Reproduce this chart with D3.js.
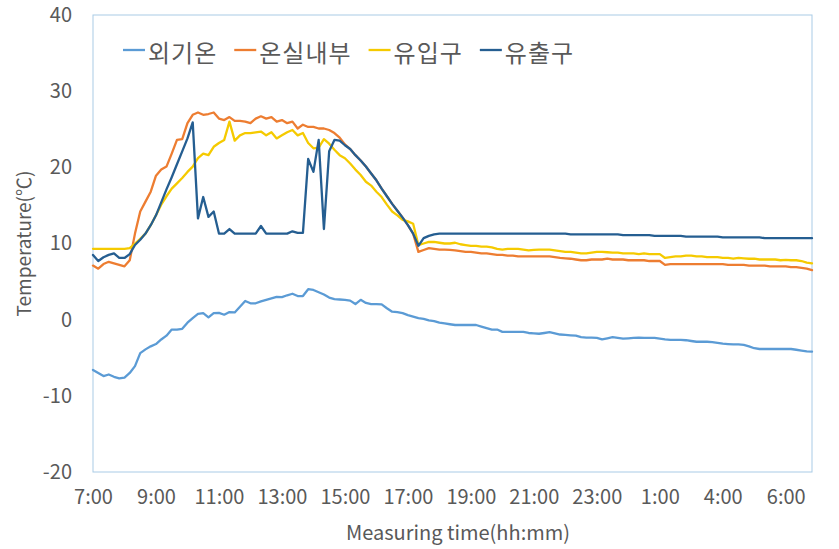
<!DOCTYPE html>
<html>
<head>
<meta charset="utf-8">
<script src="https://cdn.jsdelivr.net/npm/d3@7"></script>
<style>
  html, body { margin: 0; padding: 0; background: #fff; }
  svg { display: block; }
  text { font-family: "Noto Sans CJK KR", "Noto Sans", sans-serif; fill: #595959; }
</style>
</head>
<body>
<svg id="chart" width="839" height="549"></svg>
<script>
// ---------------- data ----------------
const seriesNames = ["외기온", "온실내부", "유입구", "유출구"];
const tickLabels = ["7:00","9:00","11:00","13:00","15:00","17:00","19:00","21:00","23:00","1:00","4:00","6:00"];
const tickEvery = 12; // one label every 12 measurements
const yTicks = [-20, -10, 0, 10, 20, 30, 40];

const outdoor = [
 -6.6,-7.0,-7.4,-7.2,-7.5,-7.7,-7.6,-7.0,-6.1,-4.4,
 -3.9,-3.5,-3.2,-2.6,-2.1,-1.3,-1.3,-1.2,-0.4,0.2,
 0.75,0.85,0.3,0.85,0.9,0.65,1.0,0.95,1.7,2.45,
 2.15,2.15,2.4,2.6,2.8,3.0,2.95,3.2,3.4,3.1,
 3.1,4.0,3.9,3.6,3.3,2.9,2.7,2.65,2.6,2.5,
 2.05,2.6,2.2,2.05,2.05,2.0,1.5,1.05,1.0,0.85,
 0.6,0.4,0.2,0.1,-0.1,-0.2,-0.4,-0.5,-0.6,-0.7,
 -0.7,-0.7,-0.7,-0.7,-0.9,-1.1,-1.3,-1.3,-1.6,-1.6,
 -1.6,-1.6,-1.6,-1.75,-1.8,-1.85,-1.75,-1.65,-1.8,-1.95,
 -2.0,-2.05,-2.1,-2.3,-2.35,-2.35,-2.4,-2.6,-2.45,-2.3,
 -2.4,-2.5,-2.45,-2.4,-2.35,-2.4,-2.4,-2.4,-2.5,-2.6,
 -2.65,-2.65,-2.65,-2.7,-2.8,-2.9,-2.9,-2.9,-2.95,-3.05,
 -3.15,-3.2,-3.25,-3.25,-3.3,-3.5,-3.75,-3.85,-3.85,-3.85,
 -3.85,-3.85,-3.85,-3.85,-3.95,-4.05,-4.15,-4.2
];
const greenhouse = [
 7.1,6.7,7.3,7.6,7.4,7.2,7.0,7.8,11.3,14.2,
 15.5,16.8,18.9,19.7,20.1,21.8,23.6,23.7,25.8,26.9,
 27.2,26.9,27.0,27.2,26.4,26.2,26.6,26.1,26.1,26.0,
 25.8,26.4,26.7,26.4,26.6,26.0,26.2,25.8,26.0,25.1,
 25.6,25.3,25.3,25.1,25.1,24.9,24.5,23.9,23.0,22.4,
 21.6,20.9,20.1,19.2,18.3,17.2,16.2,15.2,14.3,13.4,
 12.4,11.3,8.9,9.15,9.4,9.3,9.2,9.2,9.15,9.1,
 9.0,8.9,8.9,8.8,8.7,8.7,8.6,8.5,8.5,8.4,
 8.4,8.3,8.3,8.3,8.3,8.3,8.3,8.3,8.2,8.1,
 8.05,8.0,7.9,7.8,7.8,7.9,7.9,7.9,8.0,7.9,
 7.9,7.9,7.8,7.8,7.8,7.8,7.7,7.7,7.7,7.2,
 7.3,7.3,7.3,7.3,7.3,7.3,7.3,7.3,7.3,7.3,
 7.3,7.2,7.2,7.2,7.2,7.1,7.1,7.1,7.1,7.0,
 7.0,7.0,7.0,6.9,6.9,6.8,6.7,6.5
];
const inlet = [
 9.3,9.3,9.3,9.3,9.3,9.3,9.3,9.4,10.0,10.6,
 11.3,12.4,13.7,15.1,16.2,17.2,17.9,18.6,19.4,20.1,
 21.2,21.8,21.6,22.7,23.2,23.6,26.0,23.5,24.2,24.5,
 24.5,24.6,24.7,24.2,24.6,23.8,24.2,24.6,24.9,24.2,
 24.5,23.2,22.5,22.6,23.7,23.1,22.3,21.6,21.2,20.5,
 19.7,19.0,18.1,17.6,16.8,16.1,15.1,14.2,13.7,13.1,
 12.9,12.6,9.8,10.0,10.2,10.2,10.1,10.0,10.0,10.1,
 9.9,9.8,9.7,9.7,9.6,9.6,9.5,9.3,9.2,9.3,
 9.3,9.3,9.2,9.1,9.15,9.2,9.2,9.2,9.1,9.0,
 8.9,8.9,8.8,8.7,8.7,8.8,8.9,8.9,8.85,8.8,
 8.8,8.7,8.7,8.7,8.6,8.7,8.6,8.6,8.6,8.1,
 8.2,8.3,8.3,8.4,8.4,8.3,8.3,8.2,8.2,8.2,
 8.1,8.1,8.0,8.1,8.05,8.0,8.0,7.9,7.9,7.9,
 7.9,7.8,7.85,7.8,7.8,7.7,7.5,7.4
];
const outlet = [
 8.5,7.7,8.2,8.5,8.7,8.1,8.1,8.6,9.8,10.5,
 11.3,12.4,13.7,15.4,17.1,18.7,20.4,22.1,23.8,25.9,
 13.3,16.1,13.5,14.2,11.3,11.3,11.9,11.3,11.3,11.3,
 11.3,11.3,12.3,11.3,11.3,11.3,11.3,11.3,11.6,11.4,
 11.4,21.1,19.4,23.6,11.9,22.1,23.6,23.5,22.9,22.4,
 21.6,20.9,20.1,19.2,18.3,17.2,16.2,15.2,14.3,13.4,
 12.4,11.3,9.7,10.7,11.0,11.2,11.3,11.3,11.3,11.3,
 11.3,11.3,11.3,11.3,11.3,11.3,11.3,11.3,11.3,11.3,
 11.3,11.3,11.3,11.3,11.3,11.3,11.3,11.3,11.3,11.3,
 11.3,11.2,11.2,11.2,11.2,11.2,11.2,11.2,11.2,11.2,
 11.2,11.1,11.1,11.1,11.1,11.1,11.1,11.0,11.0,11.0,
 11.0,11.0,11.0,10.9,10.9,10.9,10.9,10.9,10.9,10.9,
 10.8,10.8,10.8,10.8,10.8,10.8,10.8,10.8,10.7,10.7,
 10.7,10.7,10.7,10.7,10.7,10.7,10.7,10.7
];
const seriesValues = [outdoor, greenhouse, inlet, outlet];
const seriesColors = ["#5B9BD5", "#ED7D31", "#F5CA00", "#255E91"];

// ---------------- layout ----------------
const svg = d3.select("#chart");
const plot = { left: 93, right: 812, top: 15, bottom: 472 };

const x = d3.scaleLinear().domain([0, outdoor.length - 1]).range([plot.left, plot.right]);
const y = d3.scaleLinear().domain([-20, 40]).range([plot.bottom, plot.top]);

// plot-area border
svg.append("rect")
  .attr("x", plot.left).attr("y", plot.top)
  .attr("width", plot.right - plot.left).attr("height", plot.bottom - plot.top)
  .attr("fill", "none").attr("stroke", "#A9CBE6").attr("stroke-width", 1);

// y axis
const yAxis = svg.append("g")
  .attr("transform", `translate(${plot.left - 21},0)`)
  .call(d3.axisLeft(y).tickValues(yTicks).tickSize(0).tickPadding(0).tickFormat(d => String(d)));
yAxis.select(".domain").remove();
yAxis.selectAll("text").attr("font-size", 20).attr("fill", "#595959")
  .style("font-family", "'Noto Sans CJK KR', sans-serif");

// x axis
const xAxis = svg.append("g")
  .attr("transform", `translate(0,${plot.bottom})`)
  .call(d3.axisBottom(x).tickValues(tickLabels.map((d, i) => i * tickEvery))
    .tickSize(0).tickPadding(18).tickFormat((d, i) => tickLabels[i]));
xAxis.select(".domain").remove();
xAxis.selectAll("text").attr("font-size", 20).attr("fill", "#595959")
  .style("font-family", "'Noto Sans CJK KR', sans-serif");

// axis titles
svg.append("text")
  .attr("x", 458).attr("y", 540)
  .attr("text-anchor", "middle")
  .attr("font-size", 20)
  .text("Measuring time(hh:mm)");

svg.append("text")
  .attr("transform", `translate(31,${(plot.top + plot.bottom) / 2}) rotate(-90)`)
  .attr("text-anchor", "middle")
  .attr("font-size", 19)
  .text("Temperature(℃)");

// lines
const line = d3.line().x((d, i) => x(i)).y(d => y(d));
seriesValues.forEach((vals, k) => {
  svg.append("path")
    .datum(vals)
    .attr("fill", "none")
    .attr("stroke", seriesColors[k])
    .attr("stroke-width", 2.3)
    .attr("stroke-linejoin", "round")
    .attr("stroke-linecap", "round")
    .attr("d", line);
});

// legend
const legend = svg.append("g").attr("transform", "translate(123,50)");
let lx = 0;
seriesNames.forEach((name, k) => {
  const g = legend.append("g").attr("transform", `translate(${lx},0)`);
  g.append("line").attr("x1", 0).attr("x2", 22).attr("y1", 0).attr("y2", 0)
    .attr("stroke", seriesColors[k]).attr("stroke-width", 2.3);
  const t = g.append("text").attr("x", 25).attr("y", 1)
    .attr("dominant-baseline", "central")
    .attr("font-size", 24).attr("letter-spacing", 1).attr("fill", "#404040")
    .text(name);
  lx += 25 + t.node().getComputedTextLength() + 17;
});
</script>
</body>
</html>
